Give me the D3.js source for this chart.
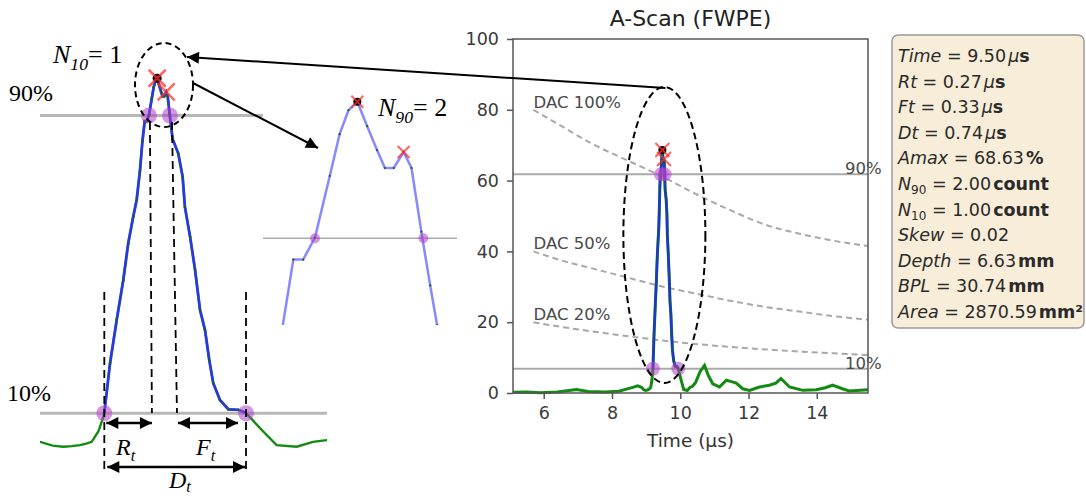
<!DOCTYPE html>
<head>
<style>
  body { margin: 0; background: #fff; }
  svg { display: block; }
  .tick text { font-family: "DejaVu Sans"; font-size: 17.5px; fill: #3a3a3a; }
  .tick line { stroke: #555; stroke-width: 1.5; }
  .serif { font-family: "Liberation Serif"; fill: #000; }
  .info { font-family: "DejaVu Sans"; font-size: 17.5px; fill: #2a2a2a; }
</style>
</head>
<body>
<svg width="1086" height="498"></svg>
<script src="https://d3js.org/d3.v7.min.js"></script>
<script>
// A-scan samples: time (us) and amplitude (% FSH)
var sigTime = [5.10, 5.50, 5.90, 6.40, 6.96, 7.30, 7.80, 8.20, 8.50, 8.61, 8.75, 8.864, 8.93, 8.986, 9.03, 9.073, 9.11, 9.134, 9.169, 9.195,
  9.200, 9.230, 9.265, 9.299, 9.325, 9.351, 9.369, 9.386, 9.399, 9.411, 9.421, 9.433, 9.448, 9.458, 9.467, 9.476, 9.486, 9.496, 9.504, 9.513,
  9.523, 9.531, 9.541, 9.550, 9.557, 9.586, 9.609, 9.621, 9.648, 9.674, 9.700, 9.726, 9.748, 9.769, 9.804, 9.848, 9.900, 9.940,
  10.03, 10.10, 10.205, 10.29, 10.36, 10.45, 10.58, 10.71, 10.82, 10.95, 11.15, 11.35, 11.50, 11.64, 11.83, 12.03, 12.32, 12.61, 12.80, 12.95,
  13.20, 13.59, 13.98, 14.25, 14.46, 14.75, 14.95, 15.50];
var sigAmp = [0.2, 0.3, 0.1, 0.3, 1.0, 0.4, 0.3, 0.5, 1.3, 1.6, 2.0, 1.6, 0.9, 0.7, 0.8, 1.0, 1.3, 1.6, 3.5, 6.2,
  6.9, 16.1, 24.1, 31.4, 38.2, 43.1, 46.2, 51.5, 57.0, 60.7, 60.7, 61.8, 64.9, 67.0, 68.2, 68.63, 67.4, 66.2, 65.3, 65.3,
  66.1, 65.3, 62.1, 59.4, 57.4, 54.8, 50.5, 44.9, 39.4, 33.3, 25.9, 22.2, 16.7, 12.4, 9.3, 7.6, 7.5, 6.9,
  3.5, 1.0, 0.7, 1.6, 1.9, 3.0, 6.0, 7.8, 5.0, 2.6, 1.7, 3.6, 3.2, 2.8, 1.2, 0.75, 1.7, 2.2, 2.8, 4.1,
  1.7, 0.75, 0.9, 1.5, 2.2, 1.2, 0.6, 0.9];

var amax = 68.63;
var levels = [10, 90];
var crossTimes = [9.2, 9.433, 9.543, 9.94];
var crossLevels = [10, 90, 90, 10];
var peakTimes = [9.476, 9.523];
var peakAmps = [68.63, 66.1];

// DAC curves
var dacTime = [5.7, 6.5, 7.5, 8.5, 9.5, 10.5, 11.5, 12.5, 13.5, 14.5, 15.5];
var dac100 = [80, 75.5, 70, 65.5, 61, 56, 51.5, 47.5, 45, 43, 41.5];
var dac50 = [40, 37.5, 35, 32.5, 30, 28, 26, 24.3, 23, 21.7, 20.7];
var dac20 = [20, 18.7, 17.3, 16, 14.8, 13.8, 13, 12.3, 11.7, 11.2, 10.7];
var dacNames = ["DAC 100%", "DAC 50%", "DAC 20%"];

var xTicks = [6, 8, 10, 12, 14];
var yTicks = [0, 20, 40, 60, 80, 100];

var infoNames = ["Time", "Rt", "Ft", "Dt", "Amax", "N|90", "N|10", "Skew", "Depth", "BPL", "Area"];
var infoValues = ["9.50", "0.27", "0.33", "0.74", "68.63", "2.00", "1.00", "0.02", "6.63", "30.74", "2870.59"];
var infoUnits = ["μ|s", "μ|s", "μ|s", "μ|s", "%", "count", "count", "", "mm", "mm", "mm²"];

var sig = sigTime.map(function(t, i) { return {t: t, a: sigAmp[i]}; });
var pulse = sig.filter(function(d) { return d.t >= crossTimes[0] && d.t <= crossTimes[3]; });
var dacs = [dac100, dac50, dac20];

var svg = d3.select("svg");
var defs = svg.append("defs");
defs.append("marker").attr("id", "head")
  .attr("viewBox", "0 0 10 10").attr("refX", 10).attr("refY", 5)
  .attr("markerWidth", 15).attr("markerHeight", 12).attr("markerUnits", "userSpaceOnUse")
  .attr("orient", "auto-start-reverse")
  .append("path").attr("d", "M0,0L10,5L0,10Z").attr("fill", "#000");

function xMark(sel, h, w) {
  sel.append("path")
    .attr("d", "M" + (-h) + "," + (-h) + "L" + h + "," + h + "M" + (-h) + "," + h + "L" + h + "," + (-h))
    .attr("stroke", "#ff3030").attr("stroke-opacity", 0.75).attr("stroke-width", w).attr("fill", "none");
}

function drawTrace(g, x, y, opt) {
  var line = d3.line().x(function(d) { return x(d.t); }).y(function(d) { return y(d.a); });
  if (opt.green) {
    g.append("path").attr("d", line(sig)).attr("fill", "none")
      .attr("stroke", "#138a13").attr("stroke-width", opt.gw);
  }
  g.append("path").attr("d", line(pulse)).attr("fill", "none")
    .attr("stroke", opt.blue).attr("stroke-opacity", opt.bo).attr("stroke-width", opt.bw);
  g.selectAll("circle.smp").data(pulse).enter().append("circle").attr("class", "smp")
    .attr("cx", function(d) { return x(d.t); }).attr("cy", function(d) { return y(d.a); })
    .attr("r", opt.dr).attr("fill", "#0b6a0b");
}

function drawMarks(g, x, y, pr, br, xh, xw, which) {
  var cr = crossTimes.map(function(t, i) { return {t: t, a: amax * crossLevels[i] / 100}; })
    .filter(function(d, i) { return which.indexOf(i) >= 0; });
  g.selectAll("circle.cross").data(cr).enter().append("circle").attr("class", "cross")
    .attr("cx", function(d) { return x(d.t); }).attr("cy", function(d) { return y(d.a); })
    .attr("r", pr).attr("fill", "#b040c8").attr("fill-opacity", 0.55);
  g.append("circle").attr("cx", x(peakTimes[0])).attr("cy", y(peakAmps[0])).attr("r", br).attr("fill", "#000");
  peakTimes.forEach(function(t, i) {
    xMark(g.append("g").attr("transform", "translate(" + x(t) + "," + y(peakAmps[i]) + ")"), xh, xw);
  });
}

// ---------- right: A-scan plot ----------
var xR = d3.scaleLinear().domain([5.1, 15.5]).range([513, 868]);
var yR = d3.scaleLinear().domain([0, 100]).range([393, 39]);
var gR = svg.append("g");

gR.append("text").attr("x", (xR.range()[0] + xR.range()[1]) / 2).attr("y", 26)
  .attr("text-anchor", "middle").style("font-family", "DejaVu Sans").style("font-size", "22px")
  .attr("fill", "#222").text("A-Scan (FWPE)");

var dacLine = d3.line().curve(d3.curveMonotoneX)
  .x(function(d, i) { return xR(dacTime[i]); }).y(function(d) { return yR(d); });
dacs.forEach(function(arr, k) {
  gR.append("path").attr("d", dacLine(arr)).attr("fill", "none")
    .attr("stroke", "#a8a8a8").attr("stroke-width", 2).attr("stroke-dasharray", "6,4");
  gR.append("text").attr("x", xR(dacTime[0])).attr("y", yR(arr[0]) - 2)
    .style("font-family", "DejaVu Sans").style("font-size", "16.5px").attr("fill", "#4a4a4a")
    .text(dacNames[k]);
});

levels.forEach(function(l) {
  gR.append("line").attr("x1", xR.range()[0]).attr("x2", xR.range()[1])
    .attr("y1", yR(amax * l / 100)).attr("y2", yR(amax * l / 100))
    .attr("stroke", "#aaa").attr("stroke-width", 2);
  gR.append("text").attr("x", xR.range()[1] - 23).attr("y", yR(amax * l / 100))
    .style("font-family", "DejaVu Sans").style("font-size", "16.5px").attr("fill", "#4a4a4a")
    .text(l + "%");
});

drawTrace(gR, xR, yR, {green: true, gw: 3, blue: "#2020ff", bo: 0.8, bw: 2.5, dr: 1});
drawMarks(gR, xR, yR, 7, 4, 7, 2, [0, 1, 2, 3]);

gR.append("rect").attr("x", xR.range()[0]).attr("y", yR.range()[1])
  .attr("width", xR.range()[1] - xR.range()[0]).attr("height", yR.range()[0] - yR.range()[1])
  .attr("fill", "none").attr("stroke", "#555").attr("stroke-width", 1.5);

var xAx = gR.append("g").attr("transform", "translate(0," + yR.range()[0] + ")")
  .call(d3.axisBottom(xR).tickValues(xTicks).tickSize(6).tickPadding(8));
var yAx = gR.append("g").attr("transform", "translate(" + xR.range()[0] + ",0)")
  .call(d3.axisLeft(yR).tickValues(yTicks).tickSize(6).tickPadding(8));
xAx.select(".domain").remove();
yAx.select(".domain").remove();

gR.append("text").attr("x", (xR.range()[0] + xR.range()[1]) / 2).attr("y", 447)
  .attr("text-anchor", "middle").style("font-family", "DejaVu Sans").style("font-size", "18.5px")
  .attr("fill", "#333").text("Time (μs)");

// dashed ellipse round the pulse
gR.append("ellipse").attr("cx", xR(peakTimes[0]) + 2).attr("cy", 235).attr("rx", 41).attr("ry", 148)
  .attr("fill", "none").attr("stroke", "#000").attr("stroke-width", 2).attr("stroke-dasharray", "7,4");

// ---------- info box ----------
var gI = svg.append("g");
gI.append("rect").attr("x", 892).attr("y", 35).attr("width", 192).attr("height", 293).attr("rx", 6)
  .attr("fill", "#f8edd8").attr("stroke", "#999").attr("stroke-width", 1.5);
infoNames.forEach(function(n, i) {
  var t = gI.append("text").attr("class", "info").attr("x", 898).attr("y", 62 + i * 25.6);
  var parts = n.split("|");
  t.append("tspan").style("font-style", "italic").text(parts[0]);
  if (parts[1]) t.append("tspan").attr("dy", 4).style("font-size", "12px").text(parts[1]);
  t.append("tspan").attr("dy", parts[1] ? -4 : 0).text(" = " + infoValues[i]);
  var u = infoUnits[i].split("|");
  if (u.length > 1) {
    t.append("tspan").attr("dx", 2).style("font-style", "italic").text(u[0]);
    t.append("tspan").style("font-weight", "bold").text(u[1]);
  } else if (u[0]) {
    t.append("tspan").attr("dx", 2).style("font-weight", "bold").text(u[0]);
  }
});

// ---------- left: magnified pulse ----------
var xL = d3.scaleLinear().domain([crossTimes[0], crossTimes[3]]).range([104.3, 246]);
var yL = d3.scaleLinear().domain([0, 100]).range([450.5, -91.9]);
defs.append("clipPath").attr("id", "clipL").append("rect")
  .attr("x", 40).attr("y", 0).attr("width", 287).attr("height", 498);
var gL = svg.append("g");
levels.forEach(function(l, k) {
  gL.append("line").attr("x1", 40).attr("x2", k ? 263 : 327)
    .attr("y1", yL(amax * l / 100)).attr("y2", yL(amax * l / 100))
    .attr("stroke", "#b8b8b8").attr("stroke-width", 3);
});
drawTrace(gL.append("g").attr("clip-path", "url(#clipL)"), xL, yL,
  {green: true, gw: 2.4, blue: "#2a2aff", bo: 0.85, bw: 2.8, dr: 1.2});
drawMarks(gL, xL, yL, 8, 4.5, 8.5, 2.5, [0, 1, 2, 3]);

var dash = "8,5";
[[xL(crossTimes[0]), 292, xL(crossTimes[0]), 472], [xL(crossTimes[3]), 292, xL(crossTimes[3]), 472],
 [xL(crossTimes[1]) + 1, 122, xL(crossTimes[1]) + 3, 413], [xL(crossTimes[2]) + 2, 122, xL(crossTimes[2]) + 7, 413]]
  .forEach(function(p) {
    gL.append("line").attr("x1", p[0]).attr("y1", p[1]).attr("x2", p[2]).attr("y2", p[3])
      .attr("stroke", "#000").attr("stroke-width", 1.8).attr("stroke-dasharray", dash);
  });

function dblArrow(x1, x2, y) {
  gL.append("line").attr("x1", x1).attr("x2", x2).attr("y1", y).attr("y2", y)
    .attr("stroke", "#000").attr("stroke-width", 2.5)
    .attr("marker-start", "url(#head)").attr("marker-end", "url(#head)");
}
dblArrow(xL(crossTimes[0]) + 2, xL(crossTimes[1]) + 3, 423);
dblArrow(xL(crossTimes[2]) + 8, xL(crossTimes[3]) - 8, 423);
dblArrow(xL(crossTimes[0]) + 3, xL(crossTimes[3]) - 1, 467);

function subLabel(g, x, y, size, main, sub, rest, drop) {
  var d = drop === undefined ? size * 0.25 : drop;
  var t = g.append("text").attr("class", "serif").attr("x", x).attr("y", y).style("font-size", size + "px");
  t.append("tspan").style("font-style", "italic").text(main);
  t.append("tspan").attr("dy", d).style("font-style", "italic").style("font-size", (size * 0.68) + "px").text(sub);
  if (rest) t.append("tspan").attr("dy", -d).text(rest);
}
subLabel(gL, 116, 455, 24, "R", "t");
subLabel(gL, 196, 455, 24, "F", "t");
subLabel(gL, 169, 488, 24, "D", "t", null, 4);
subLabel(gL, 53, 63, 26, "N", "10", "= 1");

gL.append("text").attr("class", "serif").attr("x", 9).attr("y", 101).style("font-size", "24px").text("90%");
gL.append("text").attr("class", "serif").attr("x", 7).attr("y", 401).style("font-size", "24px").text("10%");

gL.append("ellipse").attr("cx", 164).attr("cy", 85).attr("rx", 29).attr("ry", 42)
  .attr("fill", "none").attr("stroke", "#000").attr("stroke-width", 2).attr("stroke-dasharray", "6,4");

// ---------- middle: zoom on the top (N90) ----------
var xN = d3.scaleLinear().domain([crossTimes[1], crossTimes[2]]).range([315, 423.3]);
var yN = d3.scaleLinear().domain([amax * 0.9, amax]).range([238.3, 101.7]);
defs.append("clipPath").attr("id", "clipN").append("rect")
  .attr("x", 263).attr("y", 60).attr("width", 194).attr("height", 265);
var gN = svg.append("g");
gN.append("line").attr("x1", 263).attr("x2", 457).attr("y1", yN(amax * 0.9)).attr("y2", yN(amax * 0.9))
  .attr("stroke", "#aaa").attr("stroke-width", 1.5);
drawTrace(gN.append("g").attr("clip-path", "url(#clipN)"), xN, yN,
  {green: false, blue: "#6a6aff", bo: 0.8, bw: 2.5, dr: 1.1});
drawMarks(gN, xN, yN, 5, 4, 6, 2, [1, 2]);
subLabel(gN, 378, 116, 26, "N", "90", "= 2");

// ---------- arrows ----------
svg.append("line").attr("x1", xR(peakTimes[0]) + 3).attr("y1", 88).attr("x2", 187).attr("y2", 57)
  .attr("stroke", "#000").attr("stroke-width", 2).attr("marker-end", "url(#head)");
svg.append("line").attr("x1", 193).attr("y1", 83).attr("x2", 318).attr("y2", 148)
  .attr("stroke", "#000").attr("stroke-width", 2).attr("marker-end", "url(#head)");
</script>
</body>
</html>
